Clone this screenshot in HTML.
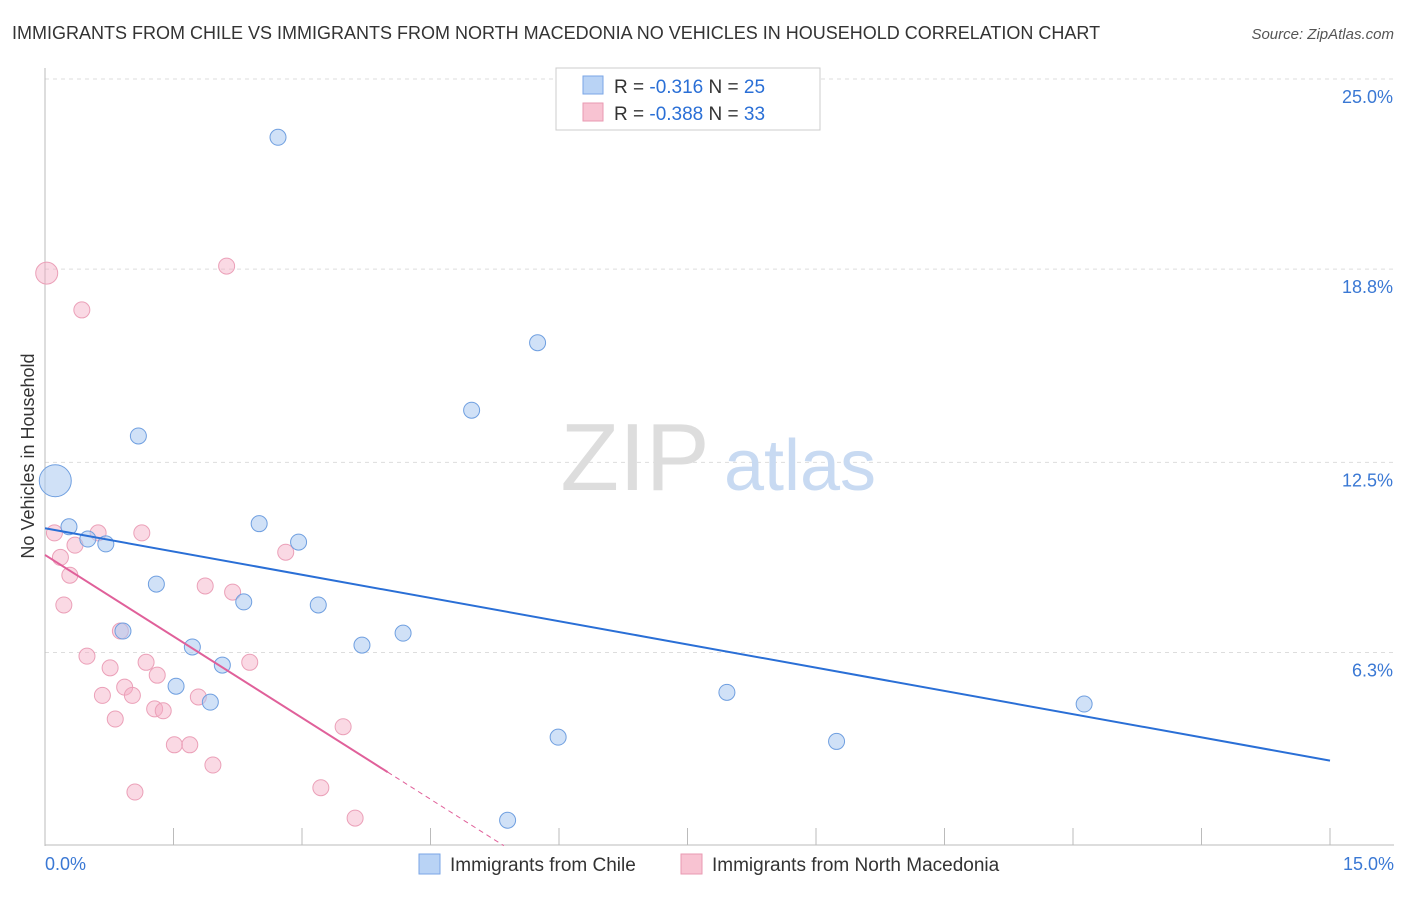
<!DOCTYPE html>
<html><head><meta charset="utf-8">
<style>
body{margin:0;background:#fff;font-family:"Liberation Sans",sans-serif;}
svg text{font-family:"Liberation Sans",sans-serif;}
</style></head>
<body>
<svg id="chart" width="1406" height="892">
<text x="12" y="39" font-size="18" fill="#333">IMMIGRANTS FROM CHILE VS IMMIGRANTS FROM NORTH MACEDONIA NO VEHICLES IN HOUSEHOLD CORRELATION CHART</text>
<text x="1394" y="39" font-size="15" fill="#555" text-anchor="end" font-style="italic">Source: ZipAtlas.com</text>
<g id="grid"></g>
<g>
<text x="635" y="490" font-size="96" fill="#ddd" text-anchor="middle" font-family="Liberation Serif,serif">ZIP</text>
<text x="800" y="490" font-size="72" fill="#c8daf2" text-anchor="middle">atlas</text>
</g>
<text transform="translate(34,456) rotate(-90)" font-size="18" fill="#333" text-anchor="middle">No Vehicles in Household</text>
<g id="points"></g>
<g id="lines"></g>
<g>
<rect x="556" y="68" width="264" height="62" fill="#fff" stroke="#ccc"/>
<rect x="583" y="76" width="20" height="18" fill="#b9d3f5" stroke="#7aa6e6"/>
<text x="614" y="93" font-size="19" fill="#333">R = <tspan fill="#2a6fd6">-0.316</tspan>   N = <tspan fill="#2a6fd6">25</tspan></text>
<rect x="583" y="103" width="20" height="18" fill="#f8c3d2" stroke="#e99ab2"/>
<text x="614" y="120" font-size="19" fill="#333">R = <tspan fill="#2a6fd6">-0.388</tspan>   N = <tspan fill="#2a6fd6">33</tspan></text>
</g>
<g>
<rect x="419" y="854" width="21" height="20" fill="#b9d3f5" stroke="#7aa6e6"/>
<text x="450" y="871" font-size="19" fill="#333">Immigrants from Chile</text>
<rect x="681" y="854" width="21" height="20" fill="#f8c3d2" stroke="#e99ab2"/>
<text x="712" y="871" font-size="19" fill="#333">Immigrants from North Macedonia</text>
</g>
</svg>
<script>
const yTicks=[6.3,12.5,18.8,25.0];
const yTickLabels=["6.3%","12.5%","18.8%","25.0%"];
const xTickLabels=["0.0%","15.0%"];
const chileX=[2.72,5.75,4.98,1.09,0.12,0.28,0.50,0.71,2.50,2.96,1.30,2.32,3.19,0.91,1.72,3.70,4.18,2.07,1.53,1.93,7.96,12.13,5.99,9.24,5.40];
const chileY=[23.1,16.4,14.2,13.36,11.9,10.4,10.0,9.84,10.5,9.9,8.53,7.95,7.85,7.0,6.48,6.54,6.93,5.89,5.2,4.68,5.0,4.62,3.54,3.4,0.83];
const chileSize=[8,8,8,8,16,8,8,8,8,8,8,8,8,8,8,8,8,8,8,8,8,8,8,8,8];
const macX=[0.02,2.12,0.43,0.11,1.13,0.62,0.18,0.35,0.29,2.81,0.22,1.87,2.19,0.88,0.49,0.76,1.18,2.39,1.31,0.93,0.67,1.02,1.79,0.82,1.28,1.38,1.51,1.69,3.48,1.96,1.05,3.22,3.62];
const macY=[18.67,18.9,17.47,10.2,10.2,10.2,9.4,9.8,8.82,9.57,7.85,8.47,8.27,7.0,6.18,5.8,5.98,5.98,5.56,5.17,4.9,4.9,4.85,4.13,4.46,4.4,3.29,3.29,3.88,2.63,1.75,1.89,0.9];
const macSize=[11,8,8,8,8,8,8,8,8,8,8,8,8,8,8,8,8,8,8,8,8,8,8,8,8,8,8,8,8,8,8,8,8];
const chileTrend=[10.35,-0.505]; // intercept, slope
const macTrend=[9.48,-1.77];
const xMin=0,xMax=15,yMin=0,yMax=25;
const X=v=>45+(v-xMin)/(xMax-xMin)*1285;
const Y=v=>845.7-(v-yMin)/(yMax-yMin)*766.7;
const NS="http://www.w3.org/2000/svg";
function mk(t,a,p){const e=document.createElementNS(NS,t);for(const k in a)e.setAttribute(k,a[k]);p.appendChild(e);return e;}
const grid=document.getElementById('grid');
yTicks.forEach((t,i)=>{
 const l=mk('line',{x1:45,x2:1394,y1:Y(t),y2:Y(t),stroke:'#ddd','stroke-dasharray':'4,4'},grid);
 
 
 const tx=mk('text',{x:1393,y:Y(t)+24,'font-size':18,fill:'#3a78d4','text-anchor':'end'},grid);
 tx.textContent=yTickLabels[i];
 
 
});
mk('line',{x1:45,x2:1394,y1:79,y2:79,stroke:'#ddd','stroke-dasharray':'4,4'},grid);
mk('line',{x1:45,x2:45,y1:68,y2:846,stroke:'#bbb'},grid);
mk('line',{x1:45,x2:1394,y1:845,y2:845,stroke:'#bbb'},grid);
for(let i=0;i<=10;i++){const v=i*1.5;const t=mk('line',{x1:X(v),x2:X(v),y1:828,y2:845,stroke:'#bbb'},grid);
 
 }
[[0,'start',45],[15,'end',1394]].forEach((d,i)=>{const t=mk('text',{x:d[2],y:870,'font-size':18,fill:'#3a78d4','text-anchor':d[1]},grid);t.textContent=xTickLabels[i];
 
 });
const pts=document.getElementById('points');
macX.forEach((x,i)=>{const c=mk('circle',{cx:X(x),cy:Y(macY[i]),r:macSize[i],fill:'rgba(245,170,195,0.45)',stroke:'#eba0b8','stroke-width':1},pts);
 
 });
chileX.forEach((x,i)=>{const c=mk('circle',{cx:X(x),cy:Y(chileY[i]),r:chileSize[i],fill:'rgba(170,200,240,0.55)',stroke:'#6f9fe0','stroke-width':1},pts);
 
 });
const ln=document.getElementById('lines');
const bl=mk('line',{x1:X(0),y1:Y(chileTrend[0]),x2:X(15),y2:Y(chileTrend[0]+chileTrend[1]*15),stroke:'#2a6fd6','stroke-width':2},ln);


const pl=mk('line',{x1:X(0),y1:Y(macTrend[0]),x2:X(4.0),y2:Y(macTrend[0]+macTrend[1]*4.0),stroke:'#e0609a','stroke-width':2},ln);


const xe=-macTrend[0]/macTrend[1];
const pd=mk('line',{x1:X(4.0),y1:Y(macTrend[0]+macTrend[1]*4.0),x2:X(xe),y2:Y(0),stroke:'#e0609a','stroke-width':1,'stroke-dasharray':'5,4'},ln);


</script>
</body></html>
